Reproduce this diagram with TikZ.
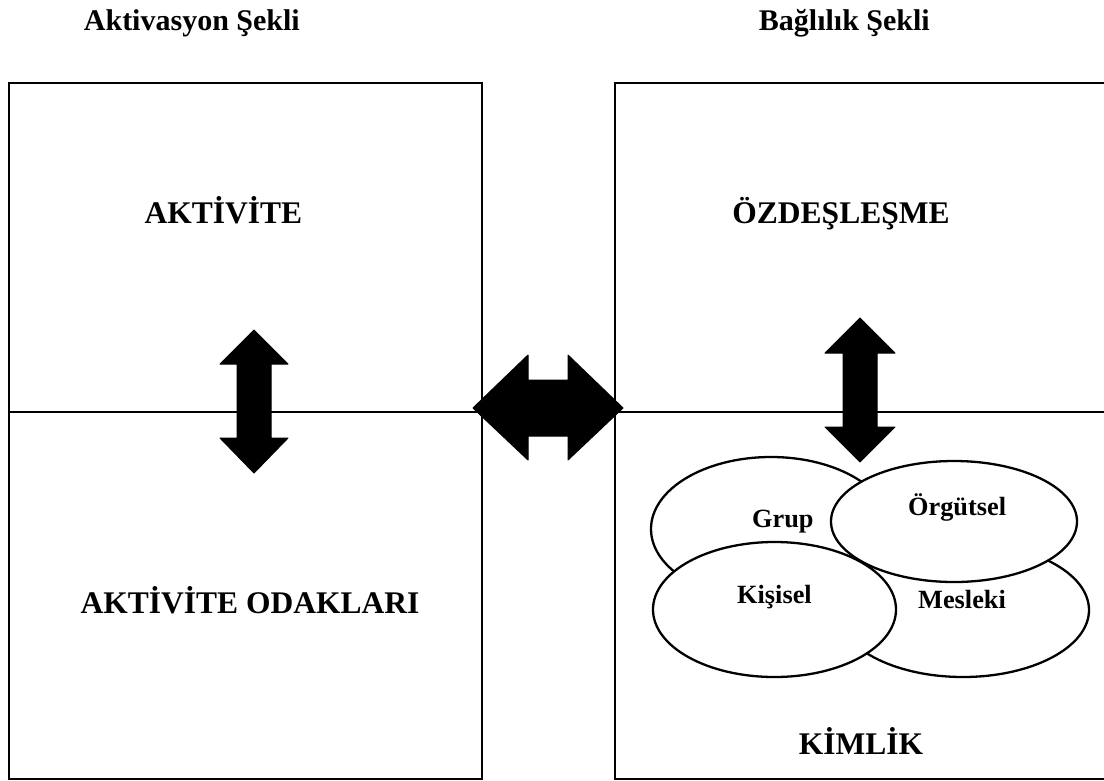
\documentclass[tikz,border=0pt]{standalone}
\usepackage{fontspec}
\setmainfont{Liberation Serif}
\usetikzlibrary{shapes.geometric}
\tikzset{
  boxline/.style={line width=2pt},
  ell/.style={ellipse, draw, line width=2.3pt, fill=white, inner sep=0pt},
  bigtxt/.style={font=\bfseries\fontsize{31.5}{36}\selectfont, inner sep=0pt},
  ttltxt/.style={font=\bfseries\fontsize{30}{34}\selectfont, inner sep=0pt},
  smalltxt/.style={font=\bfseries\fontsize{26.3}{30}\selectfont, inner sep=0pt},
  fatarrow/.style={fill=black, draw=black, line width=1pt, line join=round}
}
\begin{document}
\begin{tikzpicture}[x=1pt,y=-1pt]
\useasboundingbox (0,0) rectangle (1104,780);
% boxes
\draw[boxline] (9,83) rectangle (482,779);
\draw[boxline] (9,412) -- (482,412);
\draw[boxline] (615,83) rectangle (1110,779);
\draw[boxline] (615,412) -- (1110,412);
% titles
\node[ttltxt, anchor=base east] (t1) at (300,30) {Aktivasyon Şekli};
\node[ttltxt, anchor=base east] (t2) at (930,30) {Bağlılık Şekli};
% big labels
\node[bigtxt, anchor=base] (akt) at (223.5,223) {AKTİVİTE};
\node[bigtxt, anchor=base] (ozd) at (841,223) {ÖZDEŞLEŞME};
\node[bigtxt, anchor=base] (odak) at (250,613) {AKTİVİTE ODAKLARI};
\node[bigtxt, anchor=base] (kim) at (861,754) {KİMLİK};
% ellipses
\node[ell, minimum width=240pt, minimum height=144pt] (eg) at (771,529) {};
\node[ell, minimum width=252pt, minimum height=134pt] (em) at (963,610) {};
\node[ell, minimum width=246pt, minimum height=121pt] (eo) at (954,521.5) {};
\node[ell, minimum width=243pt, minimum height=135pt] (ek) at (774.5,609.5) {};
\node[smalltxt, anchor=base west] (lg) at (752,527) {Grup};
\node[smalltxt, anchor=base west] (lo) at (908,515) {Örgütsel};
\node[smalltxt, anchor=base west] (lk) at (737,603) {Kişisel};
\node[smalltxt, anchor=base west] (lm) at (918,608) {Mesleki};
% left vertical arrow
\filldraw[fatarrow] (254,330) -- (288,364) -- (271,364) -- (271,438) -- (288,438)
  -- (254,473) -- (220,438) -- (237,438) -- (237,364) -- (220,364) -- cycle;
% right vertical arrow
\filldraw[fatarrow] (860,318) -- (895,353) -- (877,353) -- (877,427) -- (895,427)
  -- (860,462) -- (825,427) -- (843,427) -- (843,353) -- (825,353) -- cycle;
% horizontal arrow
\filldraw[fatarrow] (473,408) -- (528,355) -- (528,380) -- (568,380) -- (568,355)
  -- (623,408) -- (568,460) -- (568,436) -- (528,436) -- (528,460) -- cycle;
\end{tikzpicture}
\end{document}
